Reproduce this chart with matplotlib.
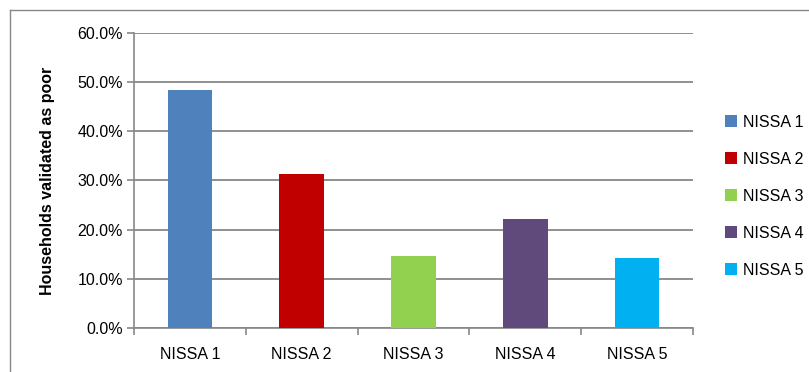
import matplotlib.pyplot as plt
from matplotlib.lines import Line2D
from matplotlib.ticker import FuncFormatter, MultipleLocator
import numpy as np

categories = ["NISSA 1", "NISSA 2", "NISSA 3", "NISSA 4", "NISSA 5"]
values = [48.5, 31.4, 14.6, 22.1, 14.2]
colors = ["#4f81bd", "#c00000", "#92d050", "#604a7b", "#00b0f0"]

plt.rcParams['font.family'] = ['Liberation Sans', 'DejaVu Sans']
grid_col = "#878787"
fs = 11.5

fig = plt.figure(figsize=(8.09, 3.72), dpi=100)
ax = fig.add_axes([0.1656, 0.1183, 0.6910, 0.7930])

x = np.arange(len(categories))
for i in range(len(categories)):
    ax.bar(x[i], values[i], width=0.4, color=colors[i], label=categories[i], zorder=3)

ax.set_xlim(-0.5, len(categories) - 0.5)
ax.set_ylim(0, 60)
ax.yaxis.set_major_locator(MultipleLocator(10))
ax.yaxis.set_major_formatter(FuncFormatter(lambda v, p: "%.1f%%" % v))
ax.set_xticks(x)
ax.set_xticklabels(categories)
ax.set_xticks(np.arange(-0.5, len(categories)), minor=True)
ax.tick_params(axis='x', which='major', length=0, pad=14, labelsize=fs)
ax.tick_params(axis='x', which='minor', length=5, color=grid_col, width=1.2)
ax.tick_params(axis='y', length=5, color=grid_col, width=1.2, labelsize=fs, pad=3)
ax.grid(axis='y', color=grid_col, linewidth=1.3, zorder=0)
for s in ['top', 'right']:
    ax.spines[s].set_visible(False)
for s in ['left', 'bottom']:
    ax.spines[s].set_color(grid_col)
    ax.spines[s].set_linewidth(1.2)

ax.set_ylabel("Households validated as poor", fontweight='bold', fontsize=fs, labelpad=16)

ax.legend(loc='upper left', bbox_to_anchor=(1.045, 0.745), frameon=False,
          handlelength=0.75, handleheight=0.75, handletextpad=0.4,
          labelspacing=1.38, fontsize=fs, borderaxespad=0)

# outer chart border (top and left only visible in the reference)
fig.add_artist(Line2D([10 / 809, 1.0], [1 - 10 / 372, 1 - 10 / 372], color="#888888", lw=1.0))
fig.add_artist(Line2D([10 / 809, 10 / 809], [0, 1 - 10 / 372], color="#888888", lw=1.0))

fig.savefig("out.png", dpi=100)
